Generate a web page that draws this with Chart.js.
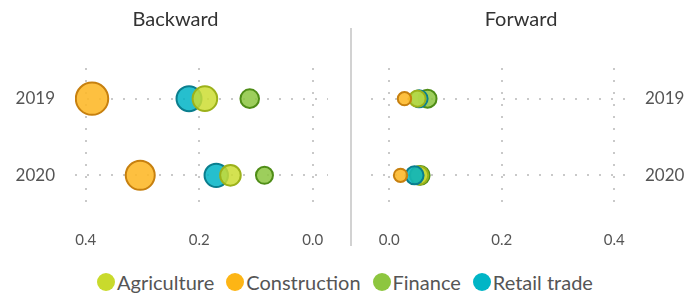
<!DOCTYPE html>
<html><head><meta charset="utf-8">
<script src="https://cdn.jsdelivr.net/npm/chart.js@4/dist/chart.umd.min.js"></script>
<style>
html,body{margin:0;padding:0;background:#fff;width:690px;height:295px;overflow:hidden;font-family:Lato,sans-serif;}
#leftBox{position:absolute;left:0;top:0;width:351px;height:255px;}
#rightBox{position:absolute;left:352px;top:0;width:338px;height:255px;}
#sep{position:absolute;left:350px;top:28px;width:2px;height:218px;background:#d2d2d2;}
#legend{position:absolute;left:0;top:269px;width:690px;height:26px;display:flex;justify-content:center;align-items:center;font-family:Lato,sans-serif;font-size:20px;color:#555;}
.item{display:flex;align-items:center;margin:0 6px;}
.dot{width:18px;height:18px;border-radius:50%;margin-right:2px;}
</style></head>
<body>
<div id="leftBox"><canvas id="left"></canvas></div>
<div id="sep"></div>
<div id="rightBox"><canvas id="right"></canvas></div>
<div id="legend"></div>
<script>
// ---- data ----
const years = ['2019', '2020'];
const sectors = ['Agriculture', 'Construction', 'Finance', 'Retail trade'];
const xTicks = [0, 0.2, 0.4];
// values per sector (Agriculture, Construction, Finance, Retail trade)
const backward2019 = [0.190, 0.389, 0.111, 0.218];
const backward2020 = [0.145, 0.304, 0.085, 0.170];
const forward2019  = [0.050, 0.027, 0.068, 0.053];
const forward2020  = [0.053, 0.020, 0.055, 0.045];
// bubble sizes (third data dimension)
const backwardSize2019 = [12.3, 16.2, 9.3, 12.5];
const backwardSize2020 = [10.3, 14.5, 8.5, 11.7];
const forwardSize2019  = [8.2, 6.7, 9.0, 8.5];
const forwardSize2020  = [9.2, 6.7, 9.4, 9.0];

const fills   = ['rgba(204,221,50,0.85)', 'rgba(253,183,37,0.88)', 'rgba(140,198,63,0.85)', 'rgba(0,180,198,0.85)'];
const borders = ['#9cb11a', '#c7800f', '#4f8d17', '#0a7e8e'];
const solids  = ['#c9da2c', '#fdb515', '#8dc63f', '#00b5c6'];

function buildDatasets(rows, sizes) {
  const ds = [];
  sectors.forEach((s, i) => {
    rows.forEach((row, yi) => {
      ds.push({
        label: s,
        data: [{ x: row[i], y: yi, r: sizes[yi][i] }],
        order: sizes[yi][i],
        backgroundColor: fills[i],
        borderColor: borders[i],
        borderWidth: 2,
        hoverRadius: 0
      });
    });
  });
  return ds;
}

// center the title over the full canvas width
const fullWidthTitle = {
  id: 'fullWidthTitle',
  afterLayout(chart) {
    const t = chart.titleBlock;
    if (t) { t.left = 0; t.right = chart.width; }
  }
};

const gridColor = '#c9c9c9';
const tickFont = { family: 'Lato', size: 15 };

function makeOptions(title, side) {
  const left = side === 'left';
  return {
    responsive: true,
    maintainAspectRatio: false,
    animation: false,
    events: [],
    layout: { padding: left ? { right: 23, left: 0, top: 0, bottom: 0 } : { left: 19, right: 0, top: 0, bottom: 0 } },
    plugins: {
      legend: { display: false },
      tooltip: { enabled: false },
      title: {
        display: true, text: title, color: '#333',
        font: { family: 'Lato', size: 20, weight: 'normal' },
        padding: { top: 8, bottom: 36 }
      }
    },
    scales: {
      x: {
        type: 'linear',
        reverse: left,
        min: left ? -0.027 : -0.0325,
        max: 0.419,
        afterBuildTicks: (s) => { s.ticks = xTicks.map(v => ({ value: v })); },
        afterFit: (s) => { s.height = 49; },
        ticks: { color: '#555', font: tickFont, padding: 25, callback: (v) => Number(v).toFixed(1), maxRotation: 0 },
        grid: { color: gridColor, lineWidth: 2, drawTicks: false },
        border: { display: false, dash: [2, 10] }
      },
      y: {
        type: 'linear',
        position: left ? 'left' : 'right',
        reverse: true,
        min: -0.4,
        max: 1.4,
        afterBuildTicks: (s) => { s.ticks = years.map((_, i) => ({ value: i })); },
        afterFit: (s) => { s.width = left ? 75 : 65; },
        ticks: { color: '#555', font: { family: 'Lato', size: 17 }, padding: 20, callback: (v) => years[v] },
        grid: { color: gridColor, lineWidth: 2, drawTicks: false },
        border: { display: false, dash: [2, 10] }
      }
    }
  };
}

new Chart(document.getElementById('left'), {
  type: 'bubble',
  data: { datasets: buildDatasets([backward2019, backward2020], [backwardSize2019, backwardSize2020]) },
  options: makeOptions('Backward', 'left'),
  plugins: [fullWidthTitle]
});
new Chart(document.getElementById('right'), {
  type: 'bubble',
  data: { datasets: buildDatasets([forward2019, forward2020], [forwardSize2019, forwardSize2020]) },
  options: makeOptions('Forward', 'right'),
  plugins: [fullWidthTitle]
});

const lg = document.getElementById('legend');
sectors.forEach((s, i) => {
  const it = document.createElement('div'); it.className = 'item';
  const d = document.createElement('span'); d.className = 'dot'; d.style.background = solids[i];
  const t = document.createElement('span'); t.textContent = s;
  it.appendChild(d); it.appendChild(t); lg.appendChild(it);
});
</script>
</body></html>
